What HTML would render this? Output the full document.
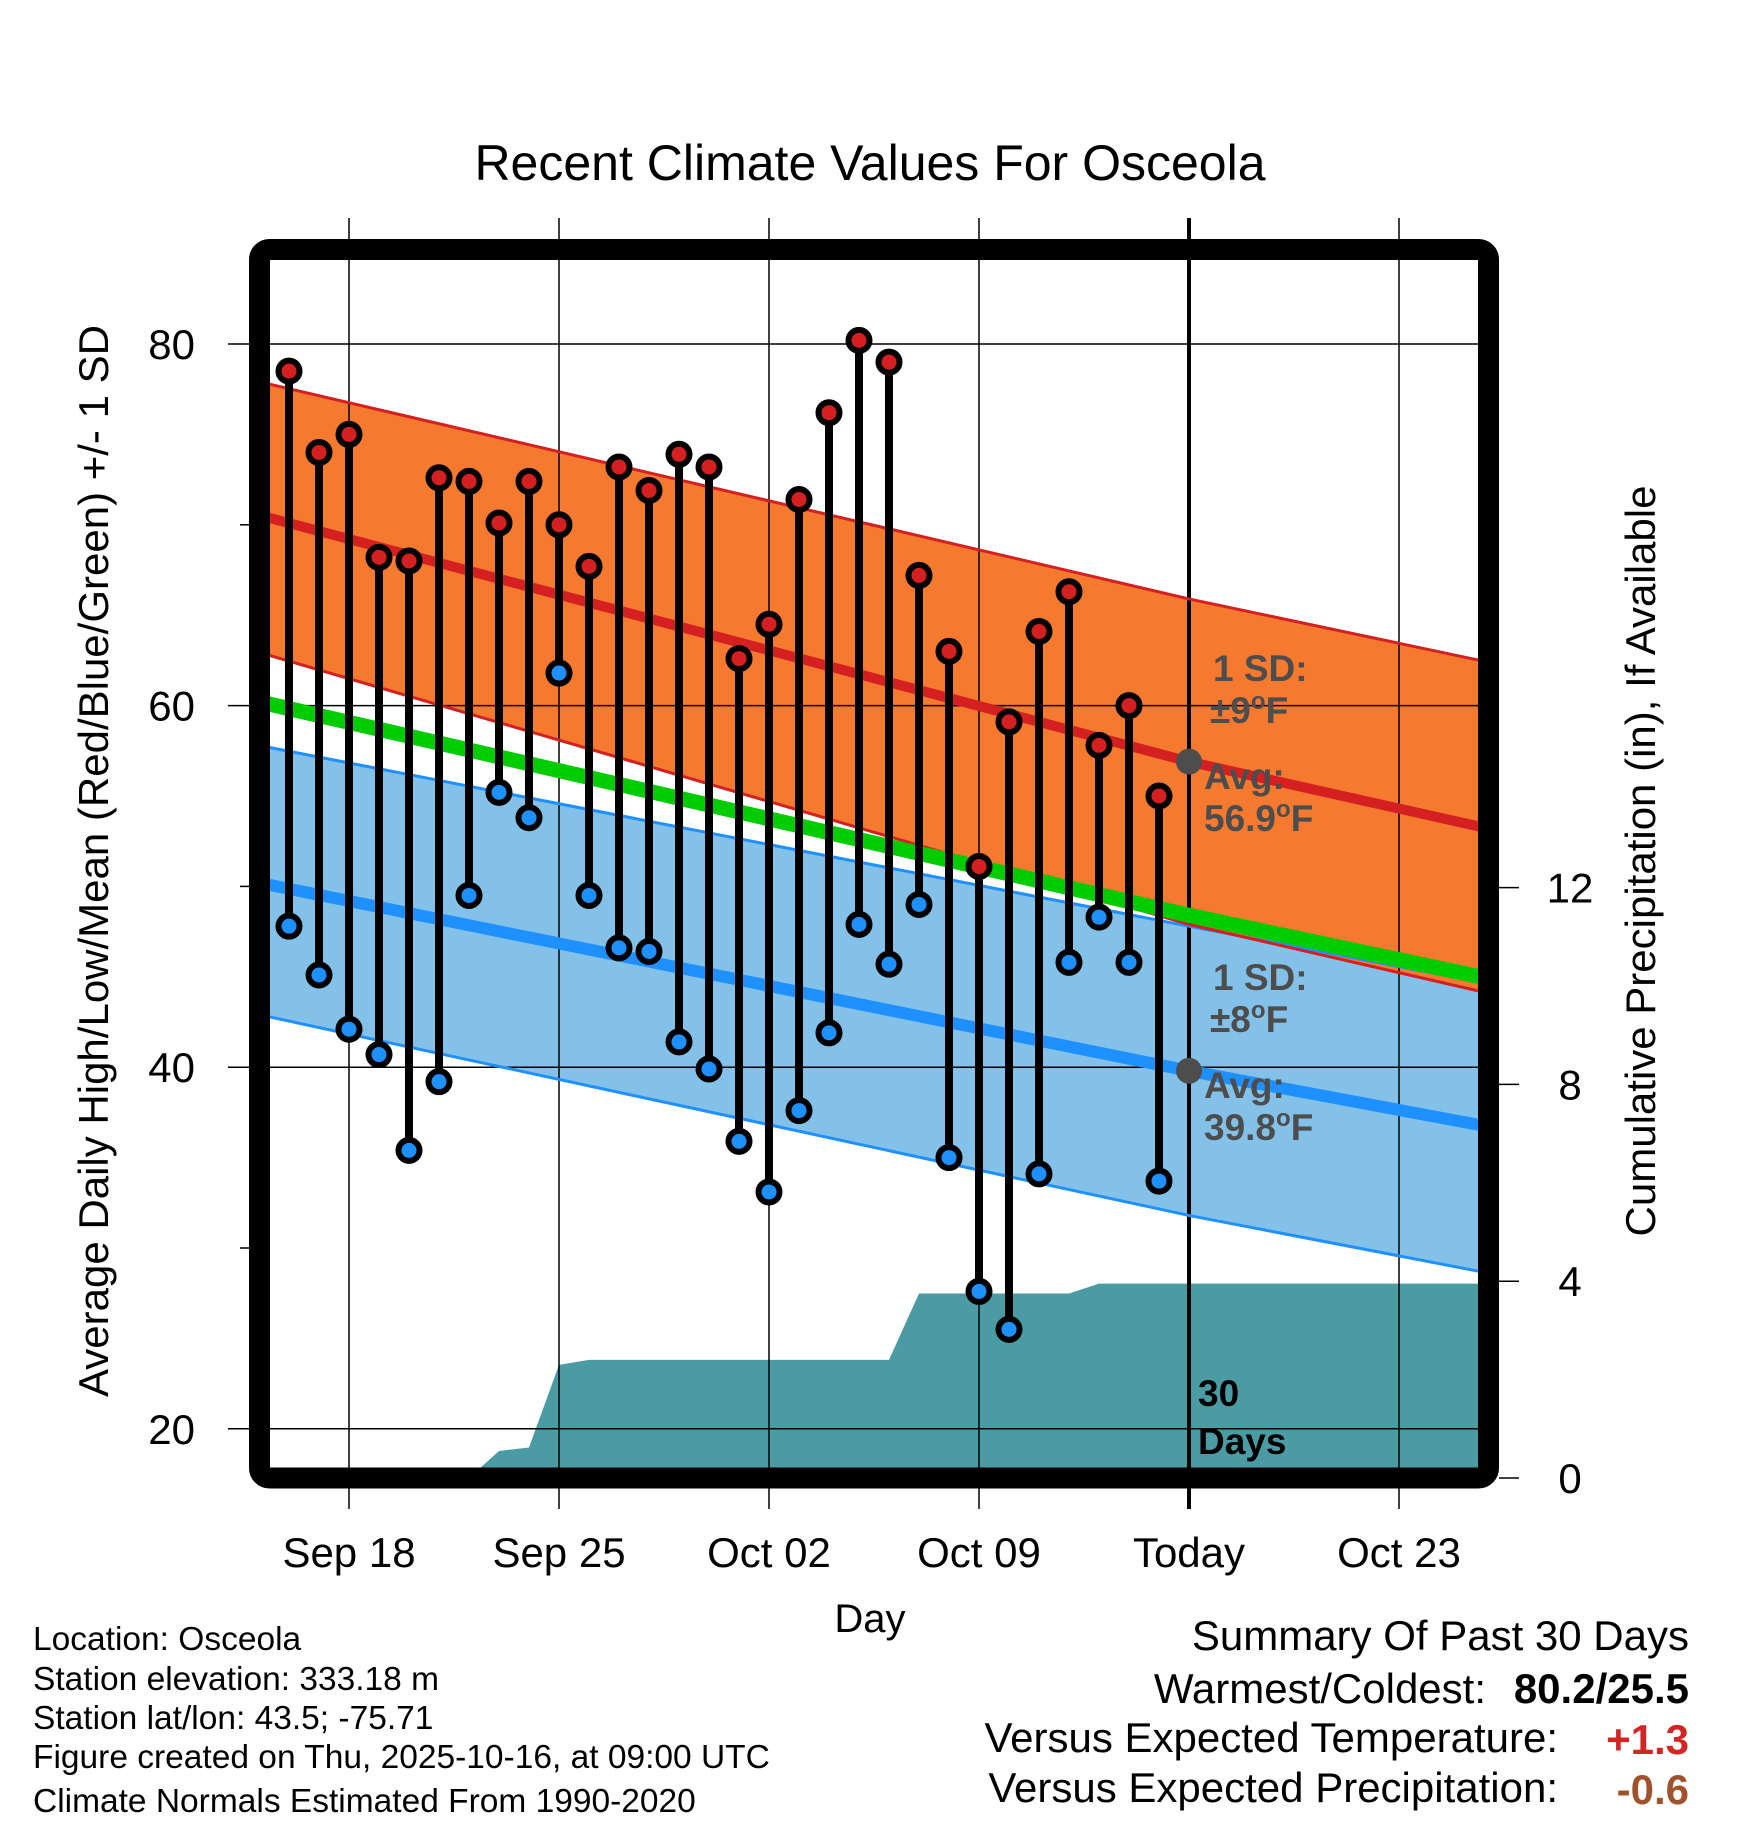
<!DOCTYPE html>
<html><head><meta charset="utf-8"><style>
html,body{margin:0;padding:0;background:#fff;}
svg{display:block;font-family:"Liberation Sans",sans-serif;}
</style></head><body>
<svg id="chart" width="1748" height="1828" viewBox="0 0 1748 1828" xmlns="http://www.w3.org/2000/svg">
<defs><clipPath id="plotclip"><rect x="270" y="260" width="1208" height="1208"/></clipPath></defs>
<text x="870" y="180" font-size="50" text-anchor="middle">Recent Climate Values For Osceola</text>
<g id="bands" clip-path="url(#plotclip)"></g>
<g id="grid"></g>
<g id="lines" clip-path="url(#plotclip)"></g>
<g id="marks"></g>
<rect x="259.5" y="249.5" width="1229" height="1228.5" rx="10" fill="none" stroke="#000" stroke-width="21"/>
<g id="annot" font-weight="bold" font-size="37" fill="#4d4d4d">
<text x="1213" y="681">1 SD:</text>
<text x="1210" y="723">±9<tspan font-size="24" dy="-14">o</tspan><tspan dy="14">F</tspan></text>
<text x="1204" y="789">Avg:</text>
<text x="1204" y="831">56.9<tspan font-size="24" dy="-14">o</tspan><tspan dy="14">F</tspan></text>
<text x="1213" y="990">1 SD:</text>
<text x="1210" y="1032">±8<tspan font-size="24" dy="-14">o</tspan><tspan dy="14">F</tspan></text>
<text x="1204" y="1098">Avg:</text>
<text x="1204" y="1140">39.8<tspan font-size="24" dy="-14">o</tspan><tspan dy="14">F</tspan></text>
<text x="1198" y="1406" fill="#000">30</text>
<text x="1198" y="1454" fill="#000">Days</text>
</g>
<text x="870" y="1632" font-size="40" text-anchor="middle">Day</text>
<text transform="translate(108,861) rotate(-90)" font-size="42" text-anchor="middle">Average Daily High/Low/Mean (Red/Blue/Green) +/- 1 SD</text>
<text transform="translate(1655,861) rotate(-90)" font-size="42" text-anchor="middle">Cumulative Precipitation (in), If Available</text>
<g font-size="33.5">
<text x="33" y="1650">Location: Osceola</text>
<text x="33" y="1690">Station elevation: 333.18 m</text>
<text x="33" y="1729">Station lat/lon: 43.5; -75.71</text>
<text x="33" y="1768">Figure created on Thu, 2025-10-16, at 09:00 UTC</text>
<text x="33" y="1812">Climate Normals Estimated From 1990-2020</text>
</g>
<g font-size="42">
<text x="1689" y="1650" text-anchor="end">Summary Of Past 30 Days</text>
<text x="1486" y="1703" text-anchor="end">Warmest/Coldest:</text>
<text x="1689" y="1703" text-anchor="end" font-weight="bold">80.2/25.5</text>
<text x="1558" y="1752" text-anchor="end">Versus Expected Temperature:</text>
<text x="1689" y="1754" text-anchor="end" font-weight="bold" fill="#d42525">+1.3</text>
<text x="1558" y="1802" text-anchor="end">Versus Expected Precipitation:</text>
<text x="1689" y="1804" text-anchor="end" font-weight="bold" fill="#a0522d">-0.6</text>
</g>
</svg>
<script>
// days since Sep 16
const dayLabels = ["Sep 18","Sep 25","Oct 02","Oct 09","Today","Oct 23"];
const dayTicks = [2,9,16,23,30,37];
const tempTicks = [20,40,60,80];
const tempMinor = [30,50,70];
const precTicks = [0,4,8,12];
const highs = [78.5,74,75,68.2,68,72.6,72.4,70.1,72.4,70,67.7,73.2,71.9,73.9,73.2,62.6,64.5,71.4,76.2,80.2,79,67.2,63,51.1,59.1,64.1,66.3,57.8,60,55];
const lows = [47.8,45.1,42.1,40.7,35.4,39.2,49.5,55.2,53.8,61.8,49.5,46.6,46.4,41.4,39.9,35.9,33.1,37.6,41.9,47.9,45.7,49,35,27.6,25.5,34.1,45.8,48.3,45.8,33.7];
const precip = [0,0,0,0,0,0,0,0.55,0.62,2.3,2.4,2.4,2.4,2.4,2.4,2.4,2.4,2.4,2.4,2.4,2.4,3.75,3.75,3.75,3.75,3.75,3.75,3.95,3.95,3.95,3.95];
const normDays = [-0.7,30,39.7];
const normHighAvg = [70.4,56.9,53.3];
const normHighUp = [77.8,65.9,62.5];
const normHighLo = [62.8,47.9,44.2];
const normMean = [60.1,48.4,45.0];
const normLowAvg = [50.1,39.8,36.8];
const normLowUp = [57.7,47.8,44.7];
const normLowLo = [42.8,31.8,28.7];

const NS="http://www.w3.org/2000/svg";
const X = d => 289 + 30*d;
const Y = t => 344 + (80 - t)*18.08;
const YP = p => 1478 - p*49.2;
function mk(parent, tag, attrs){const e=document.createElementNS(NS,tag);for(const k in attrs)e.setAttribute(k,attrs[k]);parent.appendChild(e);return e;}
const bands=document.getElementById('bands'), grid=document.getElementById('grid'), lines=document.getElementById('lines'), marks=document.getElementById('marks');
function pts(arr){return normDays.map((d,i)=>X(d)+','+Y(arr[i])).join(' ');}
function band(up,lo,fill,name){
  const p=normDays.map((d,i)=>X(d)+','+Y(up[i])).concat(normDays.slice().reverse().map((d,j)=>{const i=normDays.length-1-j;return X(d)+','+Y(lo[i]);}));
  const e=mk(bands,'polygon',{points:p.join(' '),fill:fill});
  
  
}
band(normLowUp,normLowLo,'#83c1e8','low-sd-band');
band(normHighUp,normHighLo,'#f5792f','high-sd-band');
{
  let p=[X(-1)+','+YP(0)];
  precip.forEach((v,i)=>p.push(X(i)+','+YP(v)));
  p.push(X(40)+','+YP(precip[precip.length-1]));
  p.push(X(40)+','+YP(0));
  const e=mk(bands,'polygon',{points:p.join(' '),fill:'#4a9ba4'});
  
  
}
tempTicks.forEach(t=>{
  const l=mk(grid,'line',{x1:228,x2:1478,y1:Y(t),y2:Y(t),stroke:'#000','stroke-width':1.5});
  
  
  const tx=mk(grid,'text',{x:195,y:Y(t)+15,'font-size':42,'text-anchor':'end'});
  tx.textContent=t;
  
  
});
tempMinor.forEach(t=>{
  const l=mk(grid,'line',{x1:240,x2:252,y1:Y(t),y2:Y(t),stroke:'#000','stroke-width':1.5});
  
  
});
dayTicks.forEach((d,i)=>{
  const today = dayLabels[i]==='Today';
  const l=mk(grid,'line',{x1:X(d),x2:X(d),y1:218,y2:1509,stroke:'#000','stroke-width':today?4:1.5});
  
  
  const tx=mk(grid,'text',{x:X(d),y:1567,'font-size':42,'text-anchor':'middle'});
  tx.textContent=dayLabels[i];
  
  
});
precTicks.forEach(p=>{
  const l=mk(grid,'line',{x1:1499,x2:1519,y1:YP(p),y2:YP(p),stroke:'#000','stroke-width':1.5});
  
  
  const tx=mk(grid,'text',{x:1570,y:YP(p)+15,'font-size':42,'text-anchor':'middle'});
  tx.textContent=p;
  
  
});
function pl(arr,color,w,name){
  const e=mk(lines,'polyline',{points:pts(arr),fill:'none',stroke:color,'stroke-width':w});
  
  
}
pl(normLowLo,'#1e90ff',3,'low-sd-lower-line');
pl(normLowUp,'#1e90ff',3,'low-sd-upper-line');
pl(normHighLo,'#d42020',3,'high-sd-lower-line');
pl(normHighUp,'#d42020',3,'high-sd-upper-line');
pl(normMean,'#00cc00',15,'normal-mean-line');
pl(normLowAvg,'#1e90ff',12,'normal-low-line');
pl(normHighAvg,'#d42020',10,'normal-high-line');
[[normHighAvg[1],'today-high-avg-dot'],[normLowAvg[1],'today-low-avg-dot']].forEach(([v,n])=>{
  const c=mk(lines,'circle',{cx:X(30),cy:Y(v),r:13,fill:'#4d4d4d'});
  
  
});
highs.forEach((h,i)=>{
  const lo=lows[i];
  const s=mk(marks,'line',{x1:X(i),x2:X(i),y1:Y(h),y2:Y(lo),stroke:'#000','stroke-width':8});
  
  
  const a=mk(marks,'circle',{cx:X(i),cy:Y(h),r:10.5,fill:'#d42020',stroke:'#000','stroke-width':6});
  
  
  const b=mk(marks,'circle',{cx:X(i),cy:Y(lo),r:10.5,fill:'#1e90ff',stroke:'#000','stroke-width':6});
  
  
});
</script>
</body></html>
